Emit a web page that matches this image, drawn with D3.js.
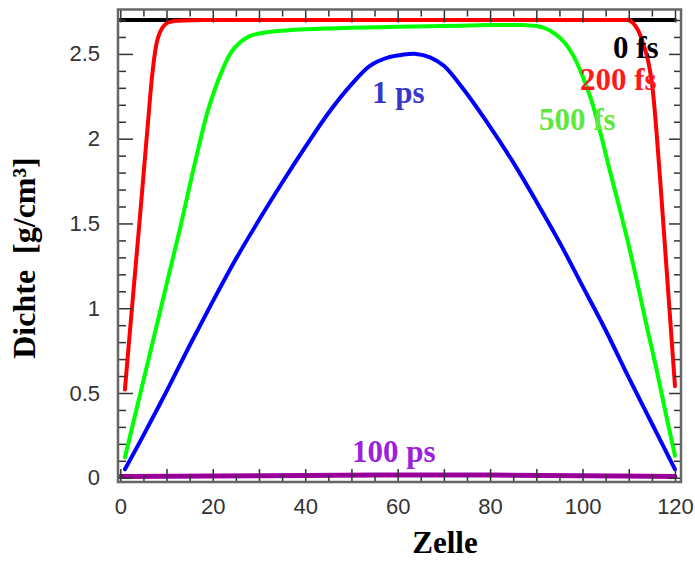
<!DOCTYPE html>
<html>
<head>
<meta charset="utf-8">
<script src="https://cdn.jsdelivr.net/npm/d3@7/dist/d3.min.js"></script>
<style>
  html, body { margin: 0; padding: 0; background: #fff; }
  svg { display: block; }
</style>
</head>
<body>
<svg id="chart" width="695" height="562"></svg>
<script>
// Density profiles across the cells at different times after the pulse

const cells0fs = [0, 120];
const dens0fs  = [2.70, 2.70];

const cells200fs = [1, 2, 3, 4, 5, 6, 7, 8, 9, 10, 11, 12, 20, 40, 60, 80, 100, 109, 110, 111, 112, 113, 114, 115, 116, 117, 118, 119, 120];
const dens200fs  = [0.52, 0.84, 1.15, 1.46, 1.78, 2.10, 2.40, 2.58, 2.65, 2.68, 2.69, 2.695, 2.70, 2.70, 2.70, 2.70, 2.70, 2.70, 2.70, 2.68, 2.64, 2.57, 2.48, 2.33, 2.04, 1.68, 1.30, 0.92, 0.54];

const cells500fs = [1, 4, 7, 10, 13, 16, 19, 22, 24, 26, 28, 30, 33, 40, 50, 60, 70, 80, 87, 90, 92, 94, 96, 98, 100, 102, 104, 106, 108, 110, 112, 114, 116, 118, 120];
const dens500fs  = [0.12, 0.46, 0.80, 1.14, 1.48, 1.84, 2.17, 2.40, 2.51, 2.57, 2.605, 2.62, 2.632, 2.645, 2.655, 2.66, 2.665, 2.67, 2.67, 2.665, 2.65, 2.62, 2.57, 2.49, 2.37, 2.22, 2.02, 1.80, 1.59, 1.37, 1.13, 0.88, 0.64, 0.38, 0.13];

const cells1ps = [1, 5, 10, 15, 20, 25, 30, 35, 40, 45, 50, 54, 58, 61, 64, 67, 70, 74, 80, 85, 90, 95, 100, 105, 110, 115, 120];
const dens1ps  = [0.05, 0.25, 0.51, 0.78, 1.04, 1.29, 1.52, 1.74, 1.95, 2.15, 2.32, 2.43, 2.48, 2.495, 2.50, 2.48, 2.43, 2.30, 2.07, 1.86, 1.63, 1.39, 1.13, 0.87, 0.59, 0.32, 0.05];

const cells100ps = [0, 20, 40, 60, 80, 100, 120];
const dens100ps  = [0.008, 0.01, 0.014, 0.017, 0.016, 0.012, 0.008];

const xLabelTicks = [0, 20, 40, 60, 80, 100, 120];
const xMajorTicks = [0, 10, 20, 30, 40, 50, 60, 70, 80, 90, 100, 110, 120];
const xMinorTicks = [5, 15, 25, 35, 45, 55, 65, 75, 85, 95, 105, 115];
const yLabelTicks = [0, 0.5, 1, 1.5, 2, 2.5];
const yMinorTicks = d3.range(0, 28).map(i => +(i * 0.1).toFixed(1)).filter(v => Math.round(v * 10) % 5 !== 0);

const series = [
  { name: "100 ps", cells: cells100ps, dens: dens100ps, color: "#990099", width: 5 },
  { name: "1 ps",   cells: cells1ps,   dens: dens1ps,   color: "#0000ff", width: 4 },
  { name: "500 fs", cells: cells500fs, dens: dens500fs, color: "#00ff00", width: 4 },
  { name: "0 fs",   cells: cells0fs,   dens: dens0fs,   color: "#000000", width: 4 },
  { name: "200 fs", cells: cells200fs, dens: dens200fs, color: "#ff0000", width: 4 }
];

const labels = [
  { text: "0 fs",   color: "#000000", x: 613, y: 58 },
  { text: "200 fs", color: "#ff1a1a", x: 580, y: 90 },
  { text: "500 fs", color: "#5fe83a", x: 539, y: 130 },
  { text: "1 ps",   color: "#3636cc", x: 372, y: 103 },
  { text: "100 ps", color: "#9a22dd", x: 352, y: 462 }
];

const frame = { left: 118, right: 681, top: 9.5, bottom: 482 };

const svg = d3.select("#chart");

const x = d3.scaleLinear().domain([-0.5, 121.3]).range([frame.left, frame.right]);
const y = d3.scaleLinear().domain([-0.025, 2.762]).range([frame.bottom, frame.top]);

// curves
const line = d3.line().curve(d3.curveCatmullRom.alpha(0.5));
const plot = svg.append("g");
plot.append("clipPath").attr("id", "clip")
  .append("rect")
  .attr("x", frame.left).attr("y", frame.top)
  .attr("width", frame.right - frame.left).attr("height", frame.bottom - frame.top);

series.forEach(s => {
  const pts = s.cells.map((c, i) => [x(c), y(s.dens[i])]);
  plot.append("path")
    .attr("clip-path", "url(#clip)")
    .attr("d", line(pts))
    .attr("fill", "none")
    .attr("stroke", s.color)
    .attr("stroke-width", s.width)
    .attr("stroke-linecap", "round")
    .attr("stroke-linejoin", "round");
});

// axes with inward ticks on all four sides
const tickColor = "#333";
function styleAxis(g) {
  g.select(".domain").remove();
  g.selectAll(".tick line").attr("stroke", tickColor).attr("stroke-width", 1.5);
  g.selectAll(".tick text")
    .attr("fill", "#333")
    .style("font-family", "'Liberation Sans', Arial, sans-serif")
    .style("font-size", "22px");
}

svg.append("g").attr("transform", `translate(0,${frame.bottom})`)
  .call(d3.axisBottom(x).tickValues(xMajorTicks).tickSize(-13).tickPadding(16)
    .tickFormat(d => xLabelTicks.includes(d) ? d : ""))
  .call(styleAxis);
svg.append("g").attr("transform", `translate(0,${frame.bottom})`)
  .call(d3.axisBottom(x).tickValues(xMinorTicks).tickSize(-7).tickFormat(""))
  .call(styleAxis);
svg.append("g").attr("transform", `translate(0,${frame.top})`)
  .call(d3.axisTop(x).tickValues(xMajorTicks).tickSize(-13).tickFormat(""))
  .call(styleAxis);
svg.append("g").attr("transform", `translate(0,${frame.top})`)
  .call(d3.axisTop(x).tickValues(xMinorTicks).tickSize(-7).tickFormat(""))
  .call(styleAxis);

svg.append("g").attr("transform", `translate(${frame.left},0)`)
  .call(d3.axisLeft(y).tickValues(yLabelTicks).tickSize(-15).tickPadding(18)
    .tickFormat(d3.format("~g")))
  .call(styleAxis);
svg.append("g").attr("transform", `translate(${frame.left},0)`)
  .call(d3.axisLeft(y).tickValues(yMinorTicks).tickSize(-8).tickFormat(""))
  .call(styleAxis);
svg.append("g").attr("transform", `translate(${frame.right},0)`)
  .call(d3.axisRight(y).tickValues(yLabelTicks).tickSize(-12).tickFormat(""))
  .call(styleAxis);
svg.append("g").attr("transform", `translate(${frame.right},0)`)
  .call(d3.axisRight(y).tickValues(yMinorTicks).tickSize(-7).tickFormat(""))
  .call(styleAxis);

// frame
svg.append("rect")
  .attr("x", frame.left).attr("y", frame.top)
  .attr("width", frame.right - frame.left).attr("height", frame.bottom - frame.top)
  .attr("fill", "none").attr("stroke", "#666").attr("stroke-width", 2.5);

// series labels
const serif = "'Liberation Serif', 'Times New Roman', serif";
labels.forEach(l => {
  svg.append("text")
    .attr("x", l.x).attr("y", l.y)
    .attr("fill", l.color)
    .style("font-family", serif)
    .style("font-weight", "bold")
    .style("font-size", "31px")
    .text(l.text);
});

// axis titles
svg.append("text")
  .attr("x", 445).attr("y", 553)
  .attr("text-anchor", "middle")
  .style("font-family", serif).style("font-weight", "bold").style("font-size", "31px")
  .text("Zelle");

svg.append("text")
  .attr("transform", "translate(35,258) rotate(-90)")
  .attr("text-anchor", "middle")
  .style("font-family", serif).style("font-weight", "bold").style("font-size", "32px")
  .attr("xml:space", "preserve")
  .text("Dichte  [g/cm³]");
</script>
</body>
</html>
